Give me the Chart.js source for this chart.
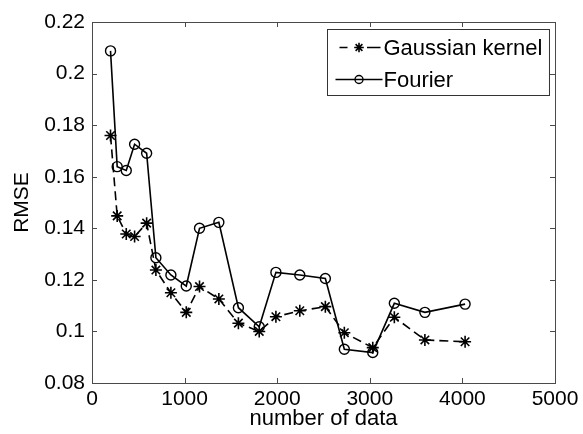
<!DOCTYPE html>
<html>
<head>
<meta charset="utf-8">
<script src="https://cdn.jsdelivr.net/npm/chart.js@4.4.1/dist/chart.umd.min.js"></script>
<style>
html,body{margin:0;padding:0;background:#fff;}
#wrap{width:583px;height:434px;position:relative;}
</style>
</head>
<body>
<div id="wrap"><canvas id="c" width="583" height="434"></canvas></div>
<script>
// ---- data ----
const numData = [200, 272, 370, 460, 590, 690, 852, 1018, 1161, 1370, 1581, 1806, 1986, 2244, 2520, 2725, 3032, 3265, 3595, 4029];
const gaussianRMSE = [0.176, 0.1448, 0.1378, 0.1368, 0.142, 0.1238, 0.115, 0.1074, 0.1174, 0.1126, 0.1032, 0.1000, 0.1057, 0.108, 0.1096, 0.0995, 0.0937, 0.1055, 0.0967, 0.096];
const fourierRMSE = [0.2088, 0.1639, 0.1624, 0.1726, 0.1691, 0.1286, 0.1219, 0.1176, 0.140, 0.1423, 0.1092, 0.1018, 0.1229, 0.1219, 0.1205, 0.0931, 0.0918, 0.1109, 0.1074, 0.1106];
const seriesNames = ['Gaussian kernel', 'Fourier'];
const xTicks = [0, 1000, 2000, 3000, 4000, 5000];
const yTicks = [0.08, 0.10, 0.12, 0.14, 0.16, 0.18, 0.20, 0.22];
const xTitle = 'number of data';
const yTitle = 'RMSE';

const FONT = '"Liberation Sans", Arial, sans-serif';
const FS = 21;
const axisColor = '#4a4a4a';

const toPts = (ys) => ys.map((y, i) => ({x: numData[i], y: y}));

const boxAndLegend = {
  id: 'boxAndLegend',
  afterDraw(chart) {
    const ctx = chart.ctx;
    const a = chart.chartArea;
    const xs = chart.scales.x, ys = chart.scales.y;
    ctx.save();
    // axes box
    ctx.strokeStyle = axisColor;
    ctx.lineWidth = 1;
    ctx.strokeRect(Math.round(a.left) + 0.5, Math.round(a.top) + 0.5,
                   Math.round(a.right - a.left), Math.round(a.bottom - a.top));
    // inward ticks on all four sides
    const tl = 5;
    ctx.beginPath();
    xs.ticks.forEach(t => {
      const px = Math.round(xs.getPixelForValue(t.value)) + 0.5;
      ctx.moveTo(px, a.bottom); ctx.lineTo(px, a.bottom - tl);
      ctx.moveTo(px, a.top); ctx.lineTo(px, a.top + tl);
    });
    ys.ticks.forEach(t => {
      const py = Math.round(ys.getPixelForValue(t.value)) + 0.5;
      ctx.moveTo(a.left, py); ctx.lineTo(a.left + tl, py);
      ctx.moveTo(a.right, py); ctx.lineTo(a.right - tl, py);
    });
    ctx.stroke();

    // legend inside upper right
    ctx.font = (FS + 1) + 'px ' + FONT;
    const ds = chart.data.datasets;
    let tw = 0;
    ds.forEach(d => { tw = Math.max(tw, ctx.measureText(d.label).width); });
    const sampleW = 47, lead = 8, rowH = 32;
    const bw = lead + sampleW + tw + 8;
    const bh = rowH * ds.length + 2;
    const bx = Math.round(a.right - 6 - bw) + 0.5;
    const by = Math.round(a.top + 7) + 0.5;
    ctx.fillStyle = '#fff';
    ctx.fillRect(bx, by, bw, bh);
    ctx.strokeStyle = '#333';
    ctx.lineWidth = 1;
    ctx.strokeRect(bx, by, bw, bh);
    ds.forEach((d, i) => {
      const cy = by + 18 + i * rowH;
      const x0 = bx + lead, x1 = x0 + sampleW, cx = (x0 + x1) / 2;
      ctx.strokeStyle = d.borderColor;
      ctx.lineWidth = d.borderWidth;
      ctx.beginPath();
      if (d.borderDash && d.borderDash.length) {
        ctx.moveTo(x0 + 4, cy); ctx.lineTo(x0 + 12, cy);
        ctx.moveTo(cx + 8, cy); ctx.lineTo(x1 - 2, cy);
      } else {
        ctx.moveTo(x0, cy); ctx.lineTo(x1, cy);
      }
      ctx.stroke();
      ctx.fillStyle = d.pointBackgroundColor;
      ctx.strokeStyle = d.pointBorderColor;
      ctx.lineWidth = d.pointBorderWidth;
      Chart.helpers.drawPoint(ctx, {
        pointStyle: d.pointStyle, radius: d.pointRadius * 0.8, borderWidth: d.pointBorderWidth
      }, cx, cy);
      ctx.fillStyle = '#000';
      ctx.textBaseline = 'middle';
      ctx.textAlign = 'left';
      ctx.fillText(d.label, x1 + 1, cy + 1);
    });
    ctx.restore();
  }
};

new Chart(document.getElementById('c'), {
  type: 'line',
  data: {
    datasets: [
      {
        label: seriesNames[0],
        data: toPts(gaussianRMSE),
        borderColor: '#000',
        backgroundColor: '#000',
        borderWidth: 1.6,
        borderDash: [9, 5],
        pointStyle: 'star',
        pointRadius: 6,
        pointBorderWidth: 1.6,
        pointBorderColor: '#000',
        pointBackgroundColor: '#000',
        tension: 0,
        fill: false
      },
      {
        label: seriesNames[1],
        data: toPts(fourierRMSE),
        borderColor: '#000',
        backgroundColor: 'rgba(0,0,0,0)',
        borderWidth: 1.6,
        pointStyle: 'circle',
        pointRadius: 5,
        pointBorderWidth: 1.4,
        pointBorderColor: '#000',
        pointBackgroundColor: 'rgba(0,0,0,0)',
        tension: 0,
        fill: false
      }
    ]
  },
  options: {
    responsive: false,
    animation: false,
    events: [],
    layout: { padding: { top: 22, right: 28, left: 0, bottom: 0 } },
    plugins: { legend: { display: false }, tooltip: { enabled: false } },
    scales: {
      x: {
        type: 'linear',
        min: xTicks[0], max: xTicks[xTicks.length - 1],
        afterBuildTicks: (s) => { s.ticks = xTicks.map(v => ({value: v})); },
        afterFit: (s) => { s.height = 51; },
        grid: { display: false, drawTicks: false },
        border: { display: false },
        ticks: { color: '#000', padding: 4, maxRotation: 0, autoSkip: false,
                 font: { family: FONT, size: FS }, callback: (v) => String(v) },
        title: { display: true, text: xTitle, color: '#000',
                 font: { family: FONT, size: FS + 1 }, padding: { top: 0, bottom: 2 } }
      },
      y: {
        type: 'linear',
        min: yTicks[0], max: yTicks[yTicks.length - 1],
        afterBuildTicks: (s) => { s.ticks = yTicks.map(v => ({value: v})); },
        afterFit: (s) => { s.width = 92; },
        grid: { display: false, drawTicks: false },
        border: { display: false },
        ticks: { color: '#000', padding: 7, autoSkip: false,
                 font: { family: FONT, size: FS },
                 callback: (v) => String(Number(v.toFixed(2))) },
        title: { display: true, text: yTitle, color: '#000',
                 font: { family: FONT, size: FS }, padding: { top: 10, bottom: 0 } }
      }
    }
  },
  plugins: [boxAndLegend]
});
</script>
</body>
</html>
